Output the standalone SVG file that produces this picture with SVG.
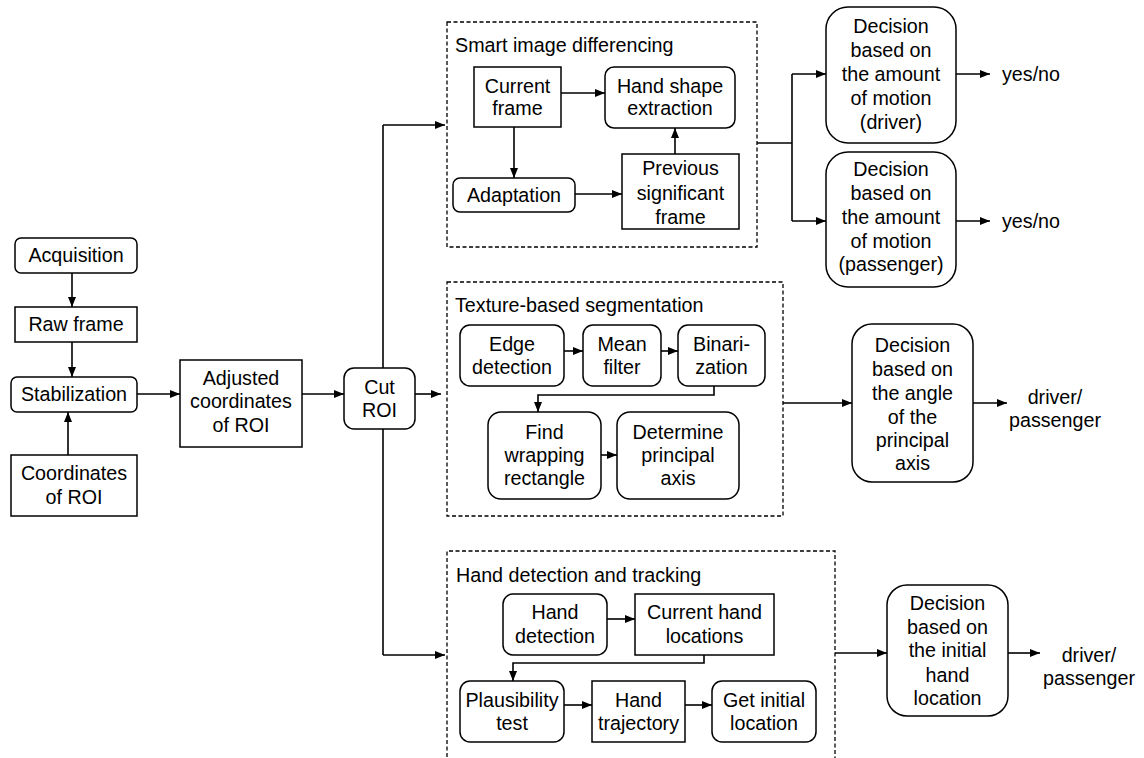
<svg xmlns="http://www.w3.org/2000/svg" width="1144" height="758" viewBox="0 0 1144 758">
  <defs>
    <marker id="arrow" viewBox="0 0 10 8" refX="10" refY="4" markerWidth="10" markerHeight="8" markerUnits="userSpaceOnUse" orient="auto">
      <path d="M0,0 L10,4 L0,8 Z" fill="#000"/>
    </marker>
  </defs>
  <style>
    .box { fill: #fff; stroke: #000; stroke-width: 1.5; }
    .group { fill: none; stroke: #000; stroke-width: 1.3; stroke-dasharray: 4 2.5; }
    .wire { fill: none; stroke: #000; stroke-width: 1.6; }
    .arr { fill: none; stroke: #000; stroke-width: 1.6; marker-end: url(#arrow); }
    text { font-family: "Liberation Sans", Arial, sans-serif; font-size: 19.7px; fill: #000; }
    .c { text-anchor: middle; }
  </style>
  <rect width="1144" height="758" fill="#fff"/>

  <!-- dashed processing groups -->
  <g id="group-differencing">
    <rect class="group" x="447" y="22" width="310" height="225"/>
    <text x="455" y="52">Smart image differencing</text>
  </g>
  <g id="group-texture">
    <rect class="group" x="447" y="282" width="336" height="234"/>
    <text x="455" y="312">Texture-based segmentation</text>
  </g>
  <g id="group-tracking">
    <path class="group" d="M447,770 L447,551 L835,551 L835,770"/>
    <text x="456" y="582">Hand detection and tracking</text>
  </g>

  <!-- connectors -->
  <g id="connectors">
    <line class="arr" x1="72" y1="273" x2="72" y2="307"/>
    <line class="arr" x1="72" y1="342" x2="72" y2="377"/>
    <line class="arr" x1="68" y1="455" x2="68" y2="412"/>
    <line class="arr" x1="137" y1="394" x2="180" y2="394"/>
    <line class="arr" x1="302" y1="394" x2="344" y2="394"/>
    <line class="arr" x1="415" y1="394" x2="441" y2="394"/>
    <path class="wire" d="M383,368 L383,125"/>
    <path class="wire" d="M383,429 L383,655"/>
    <line class="arr" x1="383" y1="125" x2="445" y2="125"/>
    <line class="arr" x1="383" y1="655" x2="445" y2="655"/>

    <!-- differencing internals -->
    <line class="arr" x1="561" y1="93" x2="605" y2="93"/>
    <line class="arr" x1="514" y1="127" x2="514" y2="178"/>
    <line class="arr" x1="575" y1="194" x2="622" y2="194"/>
    <line class="arr" x1="675" y1="154" x2="675" y2="128"/>
    <path class="wire" d="M757,143 L792,143"/>
    <path class="wire" d="M792,74 L792,221"/>
    <line class="arr" x1="792" y1="74" x2="826" y2="74"/>
    <line class="arr" x1="792" y1="221" x2="826" y2="221"/>
    <line class="arr" x1="956" y1="74" x2="990" y2="74"/>
    <line class="arr" x1="956" y1="221" x2="990" y2="221"/>

    <!-- texture internals -->
    <line class="arr" x1="564" y1="351" x2="583" y2="351"/>
    <line class="arr" x1="661" y1="351" x2="678" y2="351"/>
    <path class="arr" d="M714,386 L714,395 L538,395 L538,412"/>
    <line class="arr" x1="601" y1="455" x2="617" y2="455"/>
    <line class="arr" x1="783" y1="403" x2="852" y2="403"/>
    <line class="arr" x1="973" y1="403" x2="1007" y2="403"/>

    <!-- tracking internals -->
    <line class="arr" x1="607" y1="619" x2="635" y2="619"/>
    <path class="arr" d="M704,655 L704,663 L513,663 L513,681"/>
    <line class="arr" x1="564" y1="705" x2="592" y2="705"/>
    <line class="arr" x1="685" y1="705" x2="712" y2="705"/>
    <line class="arr" x1="835" y1="653" x2="887" y2="653"/>
    <line class="arr" x1="1008" y1="653" x2="1040" y2="653"/>
  </g>

  <!-- input chain -->
  <g id="acquisition">
    <rect class="box" x="15" y="238" width="122" height="35" rx="6"/>
    <text class="c" x="76" y="262">Acquisition</text>
  </g>
  <g id="raw-frame">
    <rect class="box" x="15" y="307" width="122" height="35"/>
    <text class="c" x="76" y="331">Raw frame</text>
  </g>
  <g id="stabilization">
    <rect class="box" x="11" y="377" width="126" height="35" rx="6"/>
    <text class="c" x="74" y="401">Stabilization</text>
  </g>
  <g id="coordinates-roi">
    <rect class="box" x="11" y="455" width="126" height="61"/>
    <text class="c" x="74" y="480">Coordinates</text>
    <text class="c" x="74" y="504">of ROI</text>
  </g>
  <g id="adjusted-coordinates">
    <rect class="box" x="180" y="360" width="122" height="87"/>
    <text class="c" x="241" y="385">Adjusted</text>
    <text class="c" x="241" y="408">coordinates</text>
    <text class="c" x="241" y="432">of ROI</text>
  </g>
  <g id="cut-roi">
    <rect class="box" x="344" y="368" width="71" height="61" rx="10"/>
    <text class="c" x="379.5" y="394">Cut</text>
    <text class="c" x="379.5" y="417">ROI</text>
  </g>

  <!-- smart image differencing -->
  <g id="current-frame">
    <rect class="box" x="474" y="67" width="87" height="60"/>
    <text class="c" x="517.5" y="93">Current</text>
    <text class="c" x="517.5" y="115">frame</text>
  </g>
  <g id="hand-shape">
    <rect class="box" x="605" y="67" width="130" height="61" rx="9"/>
    <text class="c" x="670" y="93">Hand shape</text>
    <text class="c" x="670" y="115">extraction</text>
  </g>
  <g id="adaptation">
    <rect class="box" x="453" y="178" width="122" height="34" rx="7"/>
    <text class="c" x="514" y="202">Adaptation</text>
  </g>
  <g id="previous-frame">
    <rect class="box" x="622" y="154" width="117" height="75"/>
    <text class="c" x="680.5" y="175">Previous</text>
    <text class="c" x="680.5" y="200">significant</text>
    <text class="c" x="680.5" y="224">frame</text>
  </g>
  <g id="decision-driver">
    <rect class="box" x="826" y="7" width="130" height="136" rx="22"/>
    <text class="c" x="891" y="33">Decision</text>
    <text class="c" x="891" y="57">based on</text>
    <text class="c" x="891" y="81">the amount</text>
    <text class="c" x="891" y="105">of motion</text>
    <text class="c" x="891" y="129">(driver)</text>
  </g>
  <g id="decision-passenger">
    <rect class="box" x="826" y="152" width="130" height="135" rx="22"/>
    <text class="c" x="891" y="176">Decision</text>
    <text class="c" x="891" y="200">based on</text>
    <text class="c" x="891" y="224">the amount</text>
    <text class="c" x="891" y="248">of motion</text>
    <text class="c" x="891" y="271">(passenger)</text>
  </g>
  <g id="out-yes-no-1"><text x="1002" y="81">yes/no</text></g>
  <g id="out-yes-no-2"><text x="1002" y="228">yes/no</text></g>

  <!-- texture-based segmentation -->
  <g id="edge-detection">
    <rect class="box" x="460" y="325" width="104" height="61" rx="10"/>
    <text class="c" x="512" y="351">Edge</text>
    <text class="c" x="512" y="374">detection</text>
  </g>
  <g id="mean-filter">
    <rect class="box" x="583" y="325" width="78" height="61" rx="10"/>
    <text class="c" x="622" y="351">Mean</text>
    <text class="c" x="622" y="374">filter</text>
  </g>
  <g id="binarization">
    <rect class="box" x="678" y="325" width="87" height="61" rx="10"/>
    <text class="c" x="721.5" y="351">Binari-</text>
    <text class="c" x="721.5" y="374">zation</text>
  </g>
  <g id="wrapping-rectangle">
    <rect class="box" x="488" y="412" width="113" height="87" rx="13"/>
    <text class="c" x="544.5" y="439">Find</text>
    <text class="c" x="544.5" y="462">wrapping</text>
    <text class="c" x="544.5" y="485">rectangle</text>
  </g>
  <g id="principal-axis">
    <rect class="box" x="617" y="412" width="122" height="87" rx="13"/>
    <text class="c" x="678" y="439">Determine</text>
    <text class="c" x="678" y="462">principal</text>
    <text class="c" x="678" y="485">axis</text>
  </g>
  <g id="decision-angle">
    <rect class="box" x="852" y="324" width="121" height="158" rx="20"/>
    <text class="c" x="912.5" y="352">Decision</text>
    <text class="c" x="912.5" y="376">based on</text>
    <text class="c" x="912.5" y="400">the angle</text>
    <text class="c" x="912.5" y="424">of the</text>
    <text class="c" x="912.5" y="447">principal</text>
    <text class="c" x="912.5" y="470">axis</text>
  </g>
  <g id="out-angle">
    <text class="c" x="1055" y="404">driver/</text>
    <text class="c" x="1055" y="427">passenger</text>
  </g>

  <!-- hand detection and tracking -->
  <g id="hand-detection">
    <rect class="box" x="503" y="594" width="104" height="61" rx="10"/>
    <text class="c" x="555" y="619">Hand</text>
    <text class="c" x="555" y="643">detection</text>
  </g>
  <g id="current-hand-locations">
    <rect class="box" x="635" y="594" width="139" height="61"/>
    <text class="c" x="704.5" y="619">Current hand</text>
    <text class="c" x="704.5" y="643">locations</text>
  </g>
  <g id="plausibility-test">
    <rect class="box" x="460" y="681" width="104" height="61" rx="10"/>
    <text class="c" x="512" y="707">Plausibility</text>
    <text class="c" x="512" y="730">test</text>
  </g>
  <g id="hand-trajectory">
    <rect class="box" x="592" y="681" width="93" height="61"/>
    <text class="c" x="638.5" y="707">Hand</text>
    <text class="c" x="638.5" y="730">trajectory</text>
  </g>
  <g id="initial-location">
    <rect class="box" x="712" y="681" width="104" height="61" rx="10"/>
    <text class="c" x="764" y="707">Get initial</text>
    <text class="c" x="764" y="730">location</text>
  </g>
  <g id="decision-initial">
    <rect class="box" x="887" y="585" width="121" height="131" rx="20"/>
    <text class="c" x="947.5" y="610">Decision</text>
    <text class="c" x="947.5" y="634">based on</text>
    <text class="c" x="947.5" y="657">the initial</text>
    <text class="c" x="947.5" y="682">hand</text>
    <text class="c" x="947.5" y="705">location</text>
  </g>
  <g id="out-initial">
    <text class="c" x="1089" y="662">driver/</text>
    <text class="c" x="1089" y="685">passenger</text>
  </g>
</svg>
